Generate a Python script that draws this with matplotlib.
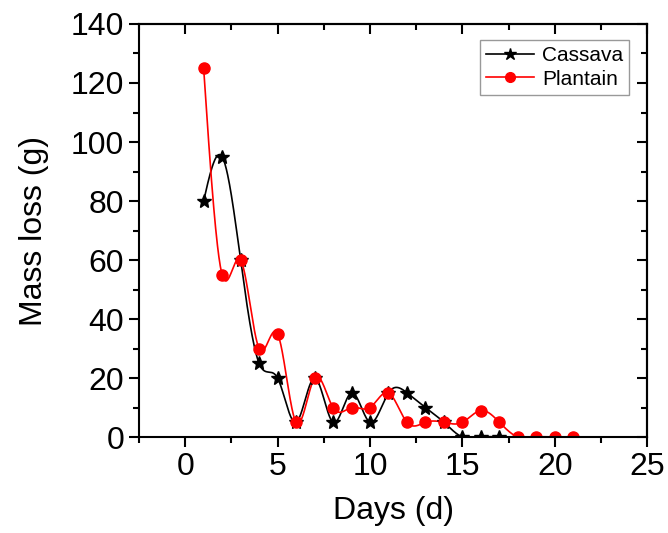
import numpy as np
import matplotlib
matplotlib.use('Agg')
import matplotlib.pyplot as plt
from matplotlib.ticker import MultipleLocator

plt.rcParams['font.family'] = ['Liberation Sans', 'DejaVu Sans']

# data
cassava_days = [1, 2, 3, 4, 5, 6, 7, 8, 9, 10, 11, 12, 13, 14, 15, 16, 17]
cassava_loss = [80, 95, 60, 25, 20, 5, 20, 5, 15, 5, 15, 15, 10, 5, 0, 0, 0]
plantain_days = [1, 2, 3, 4, 5, 6, 7, 8, 9, 10, 11, 12, 13, 14, 15, 16, 17, 18, 19, 20, 21]
plantain_loss = [125, 55, 60, 30, 35, 5, 20, 10, 10, 10, 15, 5, 5, 5, 5, 9, 5, 0, 0, 0, 0]


def spline_curve(x, y, n=40):
    # natural cubic spline through the points, for the smooth connecting line
    x = np.asarray(x, float)
    y = np.asarray(y, float)
    m = len(x)
    h = np.diff(x)
    A = np.zeros((m, m))
    b = np.zeros(m)
    A[0, 0] = A[-1, -1] = 1
    for i in range(1, m - 1):
        A[i, i - 1] = h[i - 1]
        A[i, i] = 2 * (h[i - 1] + h[i])
        A[i, i + 1] = h[i]
        b[i] = 6 * ((y[i + 1] - y[i]) / h[i] - (y[i] - y[i - 1]) / h[i - 1])
    M = np.linalg.solve(A, b)
    xs, ys = [], []
    for i in range(m - 1):
        t = np.linspace(x[i], x[i + 1], n, endpoint=False)
        a = (x[i + 1] - t) / h[i]
        c = (t - x[i]) / h[i]
        s = (a * y[i] + c * y[i + 1]
             + ((a ** 3 - a) * M[i] + (c ** 3 - c) * M[i + 1]) * h[i] ** 2 / 6)
        xs.append(t)
        ys.append(s)
    xs.append([x[-1]])
    ys.append([y[-1]])
    return np.concatenate(xs), np.concatenate(ys)


fig = plt.figure(figsize=(6.68, 5.33), dpi=100)
ax = fig.add_axes([0.208, 0.180, 0.761, 0.775])

cx, cy = spline_curve(cassava_days, cassava_loss)
px, py = spline_curve(plantain_days, plantain_loss)

ax.plot(cx, cy, color='black', lw=1.2)
ax.plot(px, py, color='red', lw=1.2)
ax.plot(cassava_days, cassava_loss, ls='none', marker='*', ms=10, color='black')
ax.plot(plantain_days, plantain_loss, ls='none', marker='o', ms=8, color='red')

# legend proxies
ax.plot([], [], color='black', lw=1.2, marker='*', ms=9, label='Cassava')
ax.plot([], [], color='red', lw=1.2, marker='o', ms=7, label='Plantain')

ax.set_xlim(-2.5, 25)
ax.set_ylim(0, 140)
ax.xaxis.set_major_locator(MultipleLocator(5))
ax.xaxis.set_minor_locator(MultipleLocator(2.5))
ax.yaxis.set_major_locator(MultipleLocator(20))
ax.yaxis.set_minor_locator(MultipleLocator(10))
ax.tick_params(which='major', direction='out', length=7, width=1.5, labelsize=23)
ax.tick_params(which='minor', direction='out', length=4, width=1.5)

# mirrored ticks pointing inwards on top and right
top = ax.secondary_xaxis('top')
top.xaxis.set_major_locator(MultipleLocator(5))
top.xaxis.set_minor_locator(MultipleLocator(2.5))
top.tick_params(which='major', direction='in', length=7, width=1.5, labeltop=False)
top.tick_params(which='minor', direction='in', length=4, width=1.5)
right = ax.secondary_yaxis('right')
right.yaxis.set_major_locator(MultipleLocator(20))
right.yaxis.set_minor_locator(MultipleLocator(10))
right.tick_params(which='major', direction='in', length=7, width=1.5, labelright=False)
right.tick_params(which='minor', direction='in', length=4, width=1.5)

for sp in list(ax.spines.values()) + [top.spines['top'], right.spines['right']]:
    sp.set_linewidth(1.5)

ax.set_xlabel('Days (d)', fontsize=23, labelpad=10)
ax.set_ylabel('Mass loss (g)', fontsize=23, labelpad=16)

leg = ax.legend(loc='upper right', bbox_to_anchor=(0.965, 0.961), fontsize=15,
                fancybox=False, edgecolor='#999999', framealpha=1,
                handlelength=2.3, borderpad=0.3, labelspacing=0.2,
                handletextpad=0.4, borderaxespad=0)
leg.get_frame().set_linewidth(1)

fig.savefig('out.png', dpi=100)
